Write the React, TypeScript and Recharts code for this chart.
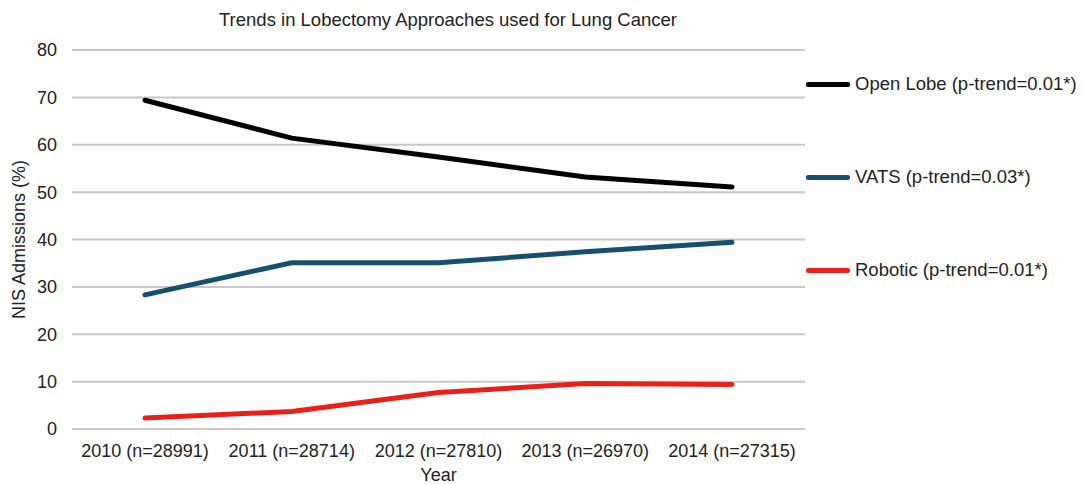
import { LineChart, Line, XAxis, YAxis, CartesianGrid, Label } from 'recharts'

const years = ['2010 (n=28991)', '2011 (n=28714)', '2012 (n=27810)', '2013 (n=26970)', '2014 (n=27315)']
const openLobe = [69.4, 61.4, 57.4, 53.2, 51.1]
const vats = [28.3, 35.1, 35.1, 37.4, 39.4]
const robotic = [2.3, 3.7, 7.7, 9.6, 9.4]
const yTicks = [0, 10, 20, 30, 40, 50, 60, 70, 80]

const SERIES = [
  { key: 'open', name: 'Open Lobe (p-trend=0.01*)', color: '#000000' },
  { key: 'vats', name: 'VATS (p-trend=0.03*)', color: '#14506f' },
  { key: 'robotic', name: 'Robotic (p-trend=0.01*)', color: '#ea2118' },
]

const data = years.map((y, i) => ({ year: y, open: openLobe[i], vats: vats[i], robotic: robotic[i] }))

const FONT = '"Liberation Sans", Arial, Helvetica, sans-serif'
const TXT = '#222'

function LegendBox() {
  return (
    <div style={{ fontFamily: FONT, fontSize: 18.5, color: TXT }}>
      {SERIES.map((s, i) => (
        <div
          key={s.key}
          style={{
            position: 'absolute',
            left: 806,
            top: 73 + i * 93,
            height: 22,
            display: 'flex',
            alignItems: 'center',
            whiteSpace: 'nowrap',
          }}
        >
          <span style={{ display: 'inline-block', width: 44, height: 5, borderRadius: 2, background: s.color, marginRight: 5 }} />
          {s.name}
        </div>
      ))}
    </div>
  )
}

export default function App() {
  return (
    <div style={{ position: 'absolute', left: 0, top: 0, width: 1084, height: 484, background: '#fff' }}>
      <div
        style={{
          position: 'absolute',
          left: 0,
          width: 896,
          top: 9,
          textAlign: 'center',
          fontFamily: FONT,
          fontSize: 18.5,
          color: TXT,
        }}
      >
        Trends in Lobectomy Approaches used for Lung Cancer
      </div>
      <LineChart width={1084} height={484} data={data} margin={{ top: 50, right: 279, bottom: 0, left: 0 }}>
        <CartesianGrid vertical={false} stroke="#cbc7c6" strokeWidth={2} />
        <XAxis
          dataKey="year"
          axisLine={false}
          tickLine={false}
          tickSize={0}
          tickMargin={15}
          height={55}
          interval={0}
          padding={{ left: 73, right: 73 }}
          tick={{ fill: TXT, fontSize: 18, fontFamily: FONT }}
        >
          <Label value="Year" position="insideBottom" offset={3} style={{ fill: TXT, fontSize: 18, fontFamily: FONT }} />
        </XAxis>
        <YAxis
          domain={[0, 80]}
          ticks={yTicks}
          axisLine={false}
          tickLine={false}
          tickSize={0}
          tickMargin={15}
          width={72}
          tick={{ fill: TXT, fontSize: 18, fontFamily: FONT }}
        >
          <Label
            value="NIS Admissions (%)"
            angle={-90}
            position="insideLeft"
            offset={19}
            style={{ textAnchor: 'middle', fill: TXT, fontSize: 18, fontFamily: FONT }}
          />
        </YAxis>
        {SERIES.map((s) => (
          <Line
            key={s.key}
            type="linear"
            dataKey={s.key}
            name={s.name}
            stroke={s.color}
            strokeWidth={5}
            strokeLinejoin="round"
            strokeLinecap="round"
            dot={false}
            activeDot={false}
            isAnimationActive={false}
          />
        ))}
      </LineChart>
      <LegendBox />
    </div>
  )
}
